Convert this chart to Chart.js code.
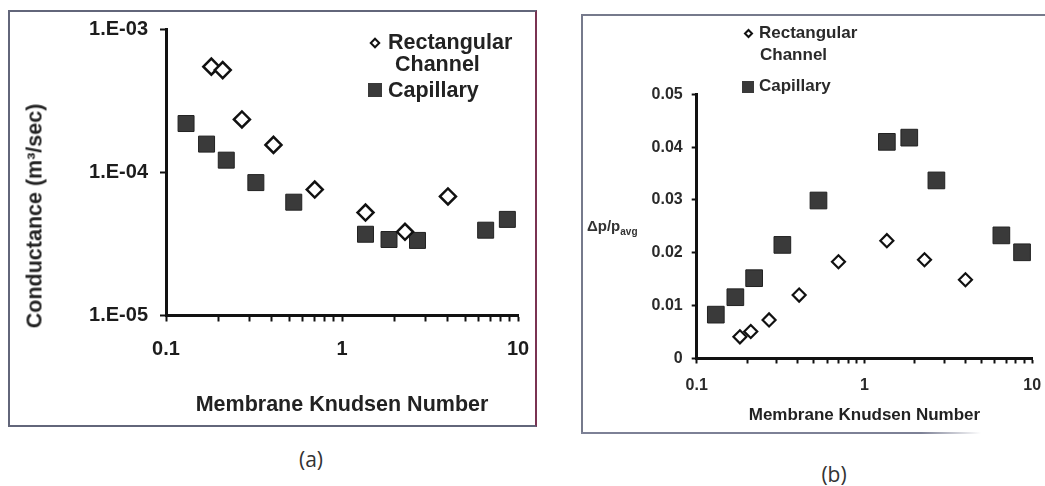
<!DOCTYPE html>
<html>
<head>
<meta charset="utf-8">
<script src="https://cdn.jsdelivr.net/npm/chart.js@4/dist/chart.umd.min.js"></script>
<style>
  body { margin: 0; width: 1045px; height: 486px; overflow: hidden; position: relative; background: #fff;
         font-family: "Liberation Sans", Arial, sans-serif; color: #222; }
  .abs { position: absolute; }
  .frameA { left: 8px; top: 10px; width: 529px; height: 417px; box-sizing: border-box;
            border: 2px solid #62667a; border-right-color: #7a3352; }
  .frameB { left: 581px; top: 14px; width: 500px; height: 420px; box-sizing: border-box;
            border-left: 2px solid #767a8c; border-top: 2px solid #767a8c; }
  .frameBbottom { left: 581px; top: 432px; width: 400px; height: 2px;
                  background: linear-gradient(to right, #7d8196 85%, rgba(125,129,150,0)); }
  .lbl { position: absolute; font-weight: bold; white-space: nowrap; }
  .diamond { position: absolute; box-sizing: border-box; background: #fff; border: 2.5px solid #111; transform: rotate(45deg); }
  .square { position: absolute; background: #3a3a3a; }
  .cap { position: absolute; font-family: "Open Sans", "Liberation Sans", sans-serif; font-size: 21px; color: #333;
         transform: translate(-50%, -50%); }
  canvas { position: absolute; }
</style>
</head>
<body>
<div class="abs frameA"></div>
<div class="abs frameB"></div>
<div class="abs frameBbottom"></div>

<canvas id="chartA" width="526" height="414" style="left:9px;top:11px"></canvas>
<canvas id="chartB" width="463" height="418" style="left:582px;top:15px"></canvas>

<!-- panel (a) legend and y title -->
<div class="diamond" style="left:371px;top:39px;width:8px;height:8px"></div>
<div class="lbl" style="left:388px;top:30px;font-size:21.5px;line-height:24px">Rectangular</div>
<div class="lbl" style="left:395px;top:52px;font-size:21.5px;line-height:24px">Channel</div>
<div class="square" style="left:368px;top:83px;width:14px;height:14px"></div>
<div class="lbl" style="left:388px;top:78px;font-size:21.5px;line-height:24px">Capillary</div>
<div class="lbl" style="left:35px;top:216px;font-size:21.5px;transform:translate(-50%,-50%) rotate(-90deg)">Conductance (m³/sec)</div>

<!-- panel (b) legend and y title -->
<div class="diamond" style="left:745px;top:30px;width:7px;height:7px;border-width:2px"></div>
<div class="lbl" style="left:759px;top:23px;font-size:17px;line-height:20px;color:#2a2a2a">Rectangular</div>
<div class="lbl" style="left:760px;top:45px;font-size:17px;line-height:20px;color:#2a2a2a">Channel</div>
<div class="square" style="left:742px;top:81px;width:12px;height:12px"></div>
<div class="lbl" style="left:759px;top:76px;font-size:17px;line-height:20px;color:#2a2a2a">Capillary</div>
<div class="lbl" style="left:587px;top:216px;font-size:15px;line-height:20px;color:#333">Δp/p<sub style="font-size:10px">avg</sub></div>

<div class="cap" style="left:311px;top:459px">(a)</div>
<div class="cap" style="left:834px;top:474px">(b)</div>

<script>
// Knudsen numbers of the two sample types
const knRect = [0.181, 0.21, 0.27, 0.408, 0.70, 1.36, 2.28, 4.0];
const knCap = [0.13, 0.17, 0.22, 0.324, 0.532, 1.36, 1.85, 2.685, 6.55, 8.7];

// (a) conductance, m3/sec
const condRect = [5.5e-4, 5.2e-4, 2.35e-4, 1.56e-4, 7.6e-5, 5.25e-5, 3.85e-5, 6.8e-5];
const condCap = [2.2e-4, 1.58e-4, 1.22e-4, 8.5e-5, 6.2e-5, 3.7e-5, 3.4e-5, 3.35e-5, 3.95e-5, 4.7e-5];

// (b) dp / p_avg
const dpRect = [0.0041, 0.0051, 0.0073, 0.0120, 0.0183, 0.0223, 0.0187, 0.0149];
const dpCap = [0.0083, 0.0116, 0.0152, 0.0215, 0.0299, 0.0410, 0.0418, 0.0337, 0.0233, 0.0201];

// ticks
const knTicks = [0.1, 0.2, 0.3, 0.4, 0.5, 0.6, 0.7, 0.8, 0.9, 1, 2, 3, 4, 5, 6, 7, 8, 9, 10];
const knLabelled = [0.1, 1, 10];
const knLabels = ['0.1', '1', '10'];
const condTicks = [1e-5, 1e-4, 1e-3];
const condLabels = ['1.E-05', '1.E-04', '1.E-03'];
const dpTicks = [0, 0.01, 0.02, 0.03, 0.04, 0.05];
const dpLabels = ['0', '0.01', '0.02', '0.03', '0.04', '0.05'];

Chart.defaults.font.family = '"Liberation Sans", Arial, sans-serif';

const pts = (xs, ys) => xs.map((x, i) => ({ x: x, y: ys[i] }));
const labelFrom = (vals, texts) => (v) => {
    const i = vals.indexOf(v);
    return i < 0 ? '' : texts[i];
};
const setTicks = (vals) => (scale) => { scale.ticks = vals.map(v => ({ value: v })); };

function makePanel(id, o) {
    new Chart(document.getElementById(id), {
        type: 'scatter',
        data: {
            datasets: [
                {
                    label: 'Rectangular Channel',
                    data: pts(knRect, o.rect),
                    pointStyle: 'rectRot',
                    pointRadius: o.diamondR,
                    pointBackgroundColor: '#fff',
                    pointBorderColor: '#111',
                    pointBorderWidth: o.diamondW,
                    clip: false
                },
                {
                    label: 'Capillary',
                    data: pts(knCap, o.cap),
                    pointStyle: 'rect',
                    pointRadius: o.squareR,
                    pointBackgroundColor: '#3a3a3a',
                    pointBorderColor: '#222',
                    pointBorderWidth: 1,
                    clip: false
                }
            ]
        },
        options: {
            responsive: false,
            animation: false,
            events: [],
            layout: { padding: o.padding },
            plugins: { legend: { display: false }, tooltip: { enabled: false } },
            scales: {
                x: {
                    type: 'logarithmic',
                    min: 0.1,
                    max: 10,
                    afterBuildTicks: setTicks(knTicks),
                    afterFit: (s) => { s.height = o.xHeight; s.paddingLeft = 0; s.paddingRight = 0; },
                    ticks: {
                        callback: labelFrom(knLabelled, knLabels),
                        autoSkip: false,
                        maxRotation: 0,
                        padding: o.xTickPad,
                        color: o.tickColor,
                        font: { size: o.tickSize, weight: 'bold' }
                    },
                    grid: { drawOnChartArea: false, tickLength: o.tickLen, tickWidth: 2, tickColor: '#111' },
                    border: { color: '#111', width: 3 },
                    title: {
                        display: true,
                        text: 'Membrane Knudsen Number',
                        color: '#222',
                        padding: { top: 0, bottom: o.titlePad },
                        font: { size: o.titleSize, weight: 'bold' }
                    }
                },
                y: o.y
            }
        }
    });
}

makePanel('chartA', {
    rect: condRect,
    cap: condCap,
    diamondR: 8, diamondW: 2.5, squareR: 11.3,
    padding: { left: 0, right: 17, top: 18.5, bottom: 0 },
    xHeight: 109.5, xTickPad: 16, tickLen: 6, tickSize: 20, tickColor: '#1c1c1c',
    titleSize: 21.5, titlePad: 7,
    y: {
        type: 'logarithmic',
        min: 1e-5,
        max: 1e-3,
        afterBuildTicks: setTicks(condTicks),
        afterFit: (s) => { s.width = 157; s.paddingTop = 0; s.paddingBottom = 0; },
        ticks: {
            callback: labelFrom(condTicks, condLabels),
            autoSkip: false,
            padding: 12,
            color: '#1c1c1c',
            font: { size: 20, weight: 'bold' }
        },
        grid: { drawOnChartArea: false, tickLength: 6, tickWidth: 2, tickColor: '#111' },
        border: { color: '#111', width: 3 }
    }
});

makePanel('chartB', {
    rect: dpRect,
    cap: dpCap,
    diamondR: 6.5, diamondW: 2.2, squareR: 11.8,
    padding: { left: 0, right: 5, top: 79.3, bottom: 0 },
    xHeight: 74.5, xTickPad: 12, tickLen: 5, tickSize: 16, tickColor: '#2a2a2a',
    titleSize: 17, titlePad: 7.5,
    y: {
        type: 'linear',
        min: 0,
        max: 0.05,
        afterBuildTicks: setTicks(dpTicks),
        afterFit: (s) => { s.width = 114.7; s.paddingTop = 0; s.paddingBottom = 0; },
        ticks: {
            callback: labelFrom(dpTicks, dpLabels),
            autoSkip: false,
            padding: 9,
            color: '#2a2a2a',
            font: { size: 16, weight: 'bold' }
        },
        grid: { drawOnChartArea: false, tickLength: 5, tickWidth: 2, tickColor: '#111' },
        border: { color: '#111', width: 3 }
    }
});
</script>
</body>
</html>
